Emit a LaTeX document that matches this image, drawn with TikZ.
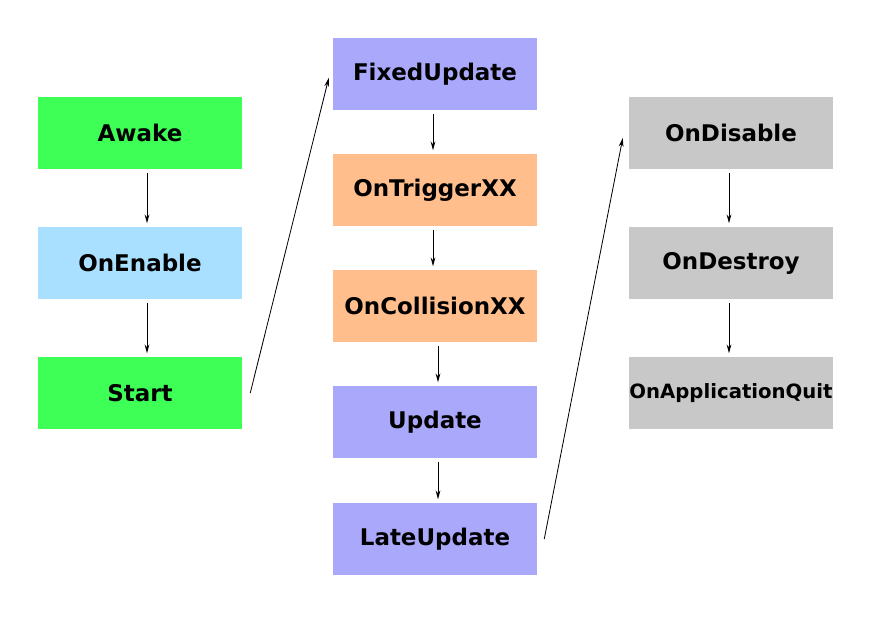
\documentclass[tikz,border=0pt]{standalone}
\usepackage{fontspec}
\setmainfont{DejaVu Sans}
\usepackage{xcolor}
\usepackage{tikz}
\usetikzlibrary{arrows.meta,positioning,calc}

\definecolor{initgreen}{RGB}{61,255,85}
\definecolor{enableblue}{RGB}{170,224,255}
\definecolor{framepurple}{RGB}{170,168,250}
\definecolor{physpeach}{RGB}{255,190,140}
\definecolor{endgray}{RGB}{200,200,200}

\tikzset{
	stage/.style={rectangle, minimum width=6.12cm, minimum height=2.16cm, inner sep=0pt,
		font=\fontsize{19.6}{22}\selectfont\bfseries},
	flow/.style={-{Stealth[length=7.5pt,width=4pt]}, line width=0.7pt, shorten >=3pt, shorten <=3pt}
}

\begin{document}
\begin{tikzpicture}[x=0.03cm, y=-0.03cm]
		\useasboundingbox (0,0) rectangle (879,616);
		% start-up
		\node[stage, fill=initgreen] (awake) at (140,133) {Awake};
		\node[stage, fill=enableblue] (onenable) at (140,263) {OnEnable};
		\node[stage, fill=initgreen] (start) at (140,393) {Start};
		% every frame
		\node[stage, fill=framepurple] (fixedupdate) at (435,74) {FixedUpdate};
		\node[stage, fill=physpeach] (ontrigger) at (435,190) {OnTriggerXX};
		\node[stage, fill=physpeach] (oncollision) at (435,306) {OnCollisionXX};
		\node[stage, fill=framepurple] (update) at (435,422) {Update};
		\node[stage, fill=framepurple] (lateupdate) at (435,539) {LateUpdate};
		% shut-down
		\node[stage, fill=endgray] (ondisable) at (731,133) {OnDisable};
		\node[stage, fill=endgray] (ondestroy) at (731,263) {OnDestroy};
		\node[stage, fill=endgray, font=\fontsize{16.8}{20}\selectfont\bfseries] (onquit) at (731,393) {OnApplicationQuit};

		\draw[flow] ([xshift=0.21cm]awake.south) -- ([xshift=0.21cm]onenable.north);
		\draw[flow] ([xshift=0.21cm]onenable.south) -- ([xshift=0.21cm]start.north);
		\draw[flow] ([xshift=-0.06cm]fixedupdate.south) -- ([xshift=-0.06cm]ontrigger.north);
		\draw[flow] ([xshift=-0.06cm]ontrigger.south) -- ([xshift=-0.06cm]oncollision.north);
		\draw[flow] ([xshift=0.09cm]oncollision.south) -- ([xshift=0.09cm]update.north);
		\draw[flow] ([xshift=0.09cm]update.south) -- ([xshift=0.09cm]lateupdate.north);
		\draw[flow] ([xshift=-0.06cm]ondisable.south) -- ([xshift=-0.06cm]ondestroy.north);
		\draw[flow] ([xshift=-0.06cm]ondestroy.south) -- ([xshift=-0.06cm]onquit.north);

		\draw[flow, shorten <=0pt, shorten >=0pt] ([xshift=0.24cm]start.east) -- ([xshift=-0.12cm,yshift=-0.12cm]fixedupdate.west);
		\draw[flow, shorten <=0pt, shorten >=0pt] ([xshift=0.21cm]lateupdate.east) -- ([xshift=-0.18cm,yshift=-0.15cm]ondisable.west);
	\end{tikzpicture}
\end{document}
